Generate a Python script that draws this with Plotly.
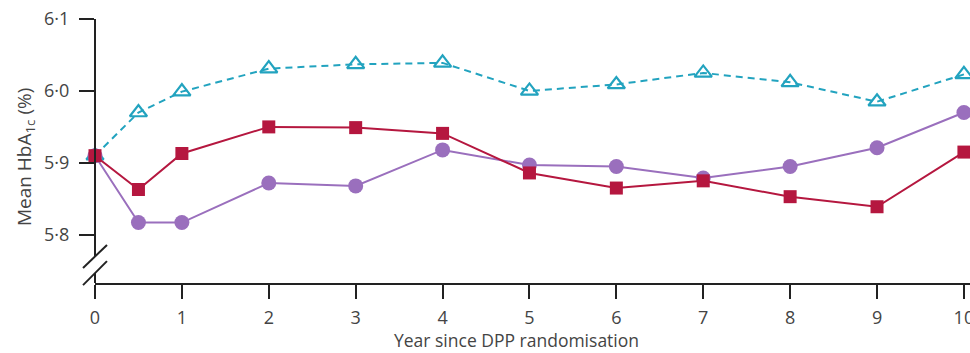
import plotly.graph_objects as go

# Years since DPP randomisation
years = [0, 0.5, 1, 2, 3, 4, 5, 6, 7, 8, 9, 10]

# Mean HbA1c (%) by group
hba1c_triangle = [5.910, 5.970, 5.999, 6.031, 6.037, 6.039, 6.000, 6.009, 6.025, 6.012, 5.985, 6.023]
hba1c_square = [5.910, 5.863, 5.913, 5.950, 5.949, 5.941, 5.886, 5.865, 5.875, 5.853, 5.839, 5.915]
hba1c_circle = [5.910, 5.817, 5.817, 5.872, 5.868, 5.918, 5.897, 5.895, 5.879, 5.895, 5.921, 5.970]

x_ticks = [0, 1, 2, 3, 4, 5, 6, 7, 8, 9, 10]
y_ticks = [5.8, 5.9, 6.0, 6.1]
y_tick_text = ["5·8", "5·9", "6·0", "6·1"]

CYAN = "#22a3bf"
RED = "#b5173f"
PURPLE = "#9a6fbd"
AXIS = "#222222"
TEXT = "#444444"
FONT = "Open Sans"

fig = go.Figure()

fig.add_trace(go.Scatter(
    x=years, y=hba1c_triangle, mode="lines+markers",
    line=dict(color=CYAN, width=2, dash="7px,5px"),
    marker=dict(symbol="triangle-up-open", size=15, color=CYAN,
                line=dict(width=2.2, color=CYAN)),
    cliponaxis=False, showlegend=False,
))
fig.add_trace(go.Scatter(
    x=years, y=hba1c_circle, mode="lines+markers",
    line=dict(color=PURPLE, width=2),
    marker=dict(symbol="circle", size=15, color=PURPLE),
    cliponaxis=False, showlegend=False,
))
fig.add_trace(go.Scatter(
    x=years, y=hba1c_square, mode="lines+markers",
    line=dict(color=RED, width=2),
    marker=dict(symbol="square", size=13, color=RED),
    cliponaxis=False, showlegend=False,
))

# Broken y axis: two line segments plus the double slash
shapes = [
    dict(type="line", xref="paper", yref="paper", x0=0, x1=0, y0=0.100, y1=1.0,
         line=dict(color=AXIS, width=2)),
    dict(type="line", xref="paper", yref="paper", x0=0, x1=0, y0=0.0, y1=0.038,
         line=dict(color=AXIS, width=2)),
    dict(type="line", xref="paper", yref="paper", x0=-0.0137, x1=0.0137, y0=0.057, y1=0.144,
         line=dict(color=AXIS, width=2)),
    dict(type="line", xref="paper", yref="paper", x0=-0.0137, x1=0.0137, y0=-0.008, y1=0.083,
         line=dict(color=AXIS, width=2)),
]

annotations = [
    dict(text="Mean HbA<sub>1c</sub> (%)", xref="paper", yref="paper",
         x=-0.0800, y=0.477, textangle=-90, showarrow=False,
         font=dict(family=FONT, size=19, color=TEXT), xanchor="center", yanchor="middle"),
    dict(text="Year since DPP randomisation", xref="paper", yref="paper",
         x=0.482, y=-0.216, showarrow=False,
         font=dict(family=FONT, size=17.5, color=TEXT), xanchor="center", yanchor="middle"),
]

fig.update_layout(
    template="none",
    width=970, height=353,
    margin=dict(l=95, r=0, t=19, b=70),
    paper_bgcolor="white", plot_bgcolor="white",
    shapes=shapes, annotations=annotations,
    xaxis=dict(
        range=[0, 10.07], tickvals=x_ticks, ticktext=[str(v) for v in x_ticks],
        showgrid=False, zeroline=False, showline=True, linecolor=AXIS, linewidth=2,
        ticks="outside", ticklen=14, tickwidth=2, tickcolor=AXIS,
        tickfont=dict(family=FONT, size=18, color=TEXT), ticklabelstandoff=3,
        ticklabeloverflow="allow", automargin=False,
    ),
    yaxis=dict(
        range=[5.733, 6.1], tickvals=y_ticks, ticktext=y_tick_text,
        showgrid=False, zeroline=False, showline=False,
        ticks="outside", ticklen=15, tickwidth=2, tickcolor=AXIS,
        tickfont=dict(family=FONT, size=18, color=TEXT), ticklabelstandoff=6,
        ticklabeloverflow="allow", automargin=False,
    ),
)

fig.write_html("out.html")
